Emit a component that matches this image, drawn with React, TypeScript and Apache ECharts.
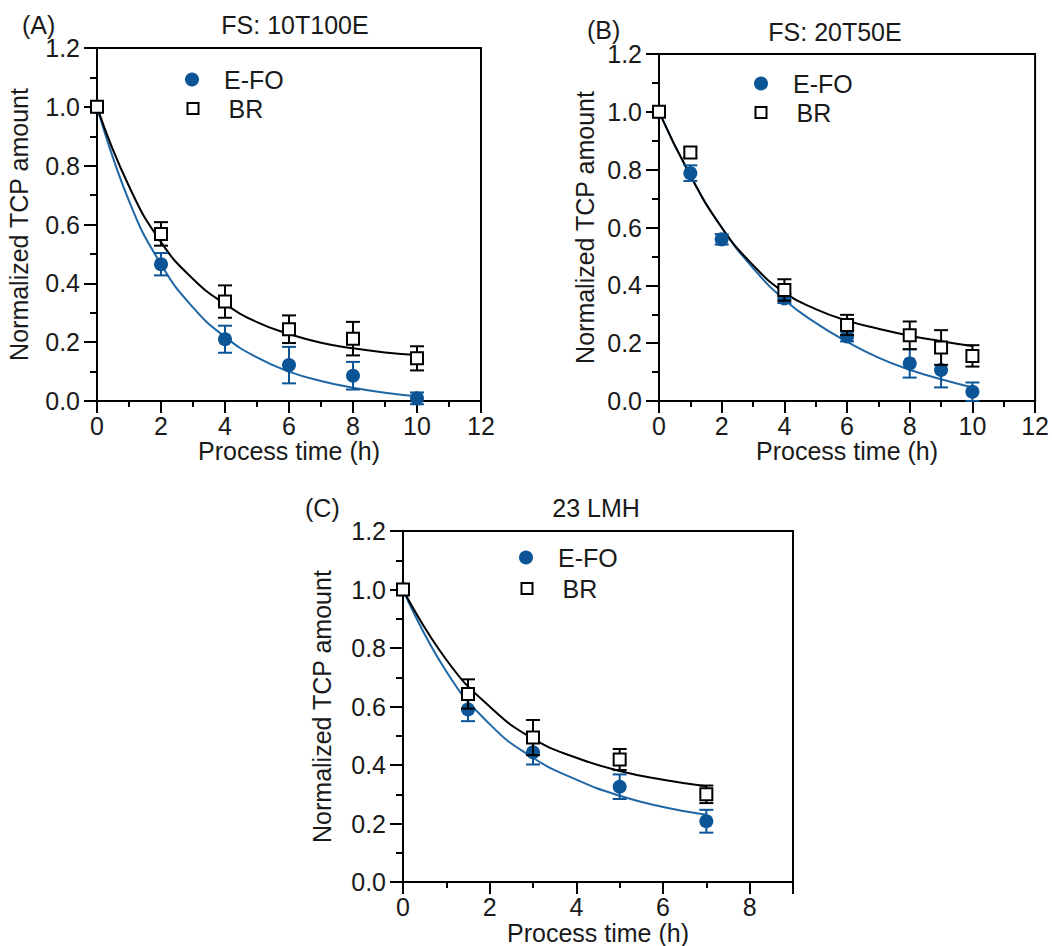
import React, { useEffect, useRef } from "react";
import * as echarts from "echarts";

// ---------- Data ----------
// Panel A: FS 10T100E
const xA = [0, 2, 4, 6, 8, 10];
const efoA = [1.0, 0.465, 0.21, 0.122, 0.086, 0.009];
const efoAErr = [0, 0.038, 0.046, 0.062, 0.047, 0.02];
const brA = [1.0, 0.568, 0.338, 0.244, 0.212, 0.145];
const brAErr = [0, 0.04, 0.055, 0.047, 0.057, 0.041];
const fitXA = [0, 1, 2, 3, 4, 5, 6, 7, 8, 9, 10];
const efoFitA = [1.0, 0.68, 0.465, 0.318, 0.218, 0.148, 0.1, 0.068, 0.045, 0.028, 0.016];
const brFitA = [1.0, 0.73, 0.54, 0.415, 0.33, 0.268, 0.228, 0.198, 0.179, 0.165, 0.156];

// Panel B: FS 20T50E
const xBefo = [0, 1, 2, 4, 6, 8, 9, 10];
const efoB = [1.0, 0.788, 0.559, 0.355, 0.223, 0.13, 0.107, 0.032];
const efoBErr = [0, 0.027, 0.018, 0.016, 0.017, 0.049, 0.06, 0.032];
const xBbr = [0, 1, 4, 6, 8, 9, 10];
const brB = [1.0, 0.859, 0.384, 0.263, 0.227, 0.185, 0.156];
const brBErr = [0, 0.017, 0.037, 0.035, 0.048, 0.06, 0.037];
const fitXB = [0, 1, 2, 3, 4, 5, 6, 7, 8, 9, 10];
const efoFitB = [1.0, 0.78, 0.6, 0.46, 0.35, 0.27, 0.205, 0.15, 0.108, 0.075, 0.047];
const brFitB = [1.0, 0.78, 0.6, 0.47, 0.375, 0.318, 0.278, 0.25, 0.226, 0.207, 0.19];

// Panel C: 23 LMH
const xC = [0, 1.5, 3, 5, 7];
const efoC = [1.0, 0.59, 0.444, 0.326, 0.208];
const efoCErr = [0, 0.04, 0.042, 0.042, 0.039];
const brC = [1.0, 0.643, 0.494, 0.419, 0.3];
const brCErr = [0, 0.05, 0.06, 0.036, 0.03];
const fitXC = [0, 1, 2, 3, 4, 5, 6, 7];
const efoFitC = [1.0, 0.72, 0.54, 0.425, 0.35, 0.295, 0.257, 0.23];
const brFitC = [1.0, 0.76, 0.6, 0.49, 0.425, 0.38, 0.35, 0.328];

const panelLetters = ["(A)", "(B)", "(C)"];
const panelTitles = ["FS: 10T100E", "FS: 20T50E", "23 LMH"];
const xAxisName = "Process time (h)";
const yAxisName = "Normalized TCP amount";
const legendNames = ["E-FO", "BR"];

// ---------- Styling ----------
const FONT = "'Liberation Sans', Arial, sans-serif";
const TXT = "#1a1a1a";
const BLUE = "#0b5597";
const BLUE_LINE = "#1f67a5";
const FS = 25;

type PanelLayout = {
  grid: { left: number; top: number; width: number; height: number };
  xMax: number;
  yGap: number;
  xGap: number;
  showMaxX: boolean;
  letter: [number, number];
  title: [number, number];
  legEfo: [number, number];
  legBr: [number, number];
};

const layouts: PanelLayout[] = [
  {
    grid: { left: 97, top: 48, width: 384, height: 353 },
    xMax: 12, yGap: 66, xGap: 36, showMaxX: true,
    letter: [22, 25], title: [295, 25], legEfo: [192, 79], legBr: [192, 108],
  },
  {
    grid: { left: 659, top: 54, width: 378, height: 347 },
    xMax: 12, yGap: 62, xGap: 37, showMaxX: true,
    letter: [587, 30], title: [835, 32], legEfo: [761, 83], legBr: [760, 112],
  },
  {
    grid: { left: 403, top: 531, width: 390, height: 356 },
    xMax: 9, yGap: 69, xGap: 32, showMaxX: false,
    letter: [305, 508], title: [596, 508], legEfo: [526, 557], legBr: [526, 588],
  },
];

function errData(xs: number[], ys: number[], es: number[]) {
  return xs
    .map((x, i) => [x, ys[i] - es[i], ys[i] + es[i]])
    .filter((_, i) => es[i] > 0);
}

function pairs(xs: number[], ys: number[]) {
  return xs.map((x, i) => [x, ys[i]]);
}

const makeErr = (color: string) => (_params: any, api: any) => {
  const x = api.value(0);
  const top = api.coord([x, api.value(2)]);
  const bot = api.coord([x, api.value(1)]);
  const hw = 7;
  const style = { stroke: color, lineWidth: 2, fill: "none" };
  return {
    type: "group",
    children: [
      { type: "line", shape: { x1: top[0], y1: top[1], x2: bot[0], y2: bot[1] }, style },
      { type: "line", shape: { x1: top[0] - hw, y1: top[1], x2: top[0] + hw, y2: top[1] }, style },
      { type: "line", shape: { x1: bot[0] - hw, y1: bot[1], x2: bot[0] + hw, y2: bot[1] }, style },
    ],
  };
};

export default function App() {
  const ref = useRef<HTMLDivElement>(null);

  useEffect(() => {
    document.body.style.margin = "0";
    if (!ref.current) return;
    const chart = echarts.init(ref.current, undefined, { renderer: "svg" });

    const panelData = [
      { xe: xA, ye: efoA, ee: efoAErr, xb: xA, yb: brA, eb: brAErr, fx: fitXA, fe: efoFitA, fb: brFitA },
      { xe: xBefo, ye: efoB, ee: efoBErr, xb: xBbr, yb: brB, eb: brBErr, fx: fitXB, fe: efoFitB, fb: brFitB },
      { xe: xC, ye: efoC, ee: efoCErr, xb: xC, yb: brC, eb: brCErr, fx: fitXC, fe: efoFitC, fb: brFitC },
    ];

    const textStyle = { fontFamily: FONT, fontSize: FS, color: TXT, fontWeight: "normal" as const };

    const grids = layouts.map((l) => ({
      ...l.grid,
      show: true,
      borderColor: "#000",
      borderWidth: 2,
      backgroundColor: "transparent",
      containLabel: false,
    }));

    const axisLine = { show: true, onZero: false, lineStyle: { color: "#000", width: 2 } };

    const xAxes = layouts.map((l, i) => ({
      type: "value",
      gridIndex: i,
      min: 0,
      max: l.xMax,
      interval: 2,
      name: xAxisName,
      nameLocation: "middle",
      nameGap: l.xGap,
      nameTextStyle: textStyle,
      axisLine,
      axisTick: { show: true, inside: false, length: 12, lineStyle: { color: "#000", width: 2 } },
      minorTick: { show: true, splitNumber: 2, length: 6, lineStyle: { color: "#000", width: 2 } },
      splitLine: { show: false },
      minorSplitLine: { show: false },
      axisLabel: {
        ...textStyle,
        margin: 12,
        showMaxLabel: l.showMaxX,
        formatter: (v: number) => String(v),
      },
    }));

    const yAxes = layouts.map((l, i) => ({
      type: "value",
      gridIndex: i,
      min: 0,
      max: 1.2,
      interval: 0.2,
      name: yAxisName,
      nameLocation: "middle",
      nameGap: l.yGap,
      nameTextStyle: textStyle,
      axisLine,
      axisTick: { show: true, inside: false, length: 13, lineStyle: { color: "#000", width: 2 } },
      minorTick: { show: true, splitNumber: 2, length: 7, lineStyle: { color: "#000", width: 2 } },
      splitLine: { show: false },
      minorSplitLine: { show: false },
      axisLabel: { ...textStyle, margin: 17, formatter: (v: number) => v.toFixed(1) },
    }));

    const series: any[] = [];
    panelData.forEach((d, i) => {
      series.push({
        name: "E-FO fit",
        type: "line",
        xAxisIndex: i,
        yAxisIndex: i,
        data: pairs(d.fx, d.fe),
        smooth: 0.5,
        showSymbol: false,
        lineStyle: { color: BLUE_LINE, width: 2 },
        itemStyle: { color: BLUE_LINE },
        z: 2,
        silent: true,
      });
      series.push({
        name: "BR fit",
        type: "line",
        xAxisIndex: i,
        yAxisIndex: i,
        data: pairs(d.fx, d.fb),
        smooth: 0.5,
        showSymbol: false,
        lineStyle: { color: "#000", width: 2 },
        itemStyle: { color: "#000" },
        z: 2,
        silent: true,
      });
      series.push({
        name: "E-FO err",
        type: "custom",
        xAxisIndex: i,
        yAxisIndex: i,
        data: errData(d.xe, d.ye, d.ee),
        encode: { x: 0, y: [1, 2] },
        renderItem: makeErr(BLUE),
        z: 3,
        silent: true,
      });
      series.push({
        name: legendNames[0],
        type: "scatter",
        xAxisIndex: i,
        yAxisIndex: i,
        data: pairs(d.xe, d.ye),
        symbol: "circle",
        symbolSize: 14,
        itemStyle: { color: BLUE, opacity: 1 },
        z: 4,
      });
      series.push({
        name: "BR err",
        type: "custom",
        xAxisIndex: i,
        yAxisIndex: i,
        data: errData(d.xb, d.yb, d.eb),
        encode: { x: 0, y: [1, 2] },
        renderItem: makeErr("#000"),
        z: 5,
        silent: true,
      });
      series.push({
        name: legendNames[1],
        type: "scatter",
        xAxisIndex: i,
        yAxisIndex: i,
        data: pairs(d.xb, d.yb),
        symbol: "rect",
        symbolSize: 12,
        itemStyle: { color: "#fff", borderColor: "#000", borderWidth: 2, opacity: 1 },
        z: 6,
      });
    });

    const legends: any[] = [];
    layouts.forEach((l) => {
      legends.push({
        data: [{ name: legendNames[0], icon: "circle" }],
        orient: "vertical",
        left: l.legEfo[0] - 7,
        top: l.legEfo[1] - 12,
        itemWidth: 14,
        itemHeight: 14,
        padding: 0,
        selectedMode: false,
        textStyle: { ...textStyle, padding: [0, 0, 0, 20] },
      });
      legends.push({
        data: [{ name: legendNames[1], icon: "rect" }],
        orient: "vertical",
        left: l.legBr[0] - 5.5,
        top: l.legBr[1] - 12,
        itemWidth: 11,
        itemHeight: 11,
        padding: 0,
        selectedMode: false,
        textStyle: { ...textStyle, padding: [0, 0, 0, 25] },
      });
    });

    const titles: any[] = [];
    layouts.forEach((l, i) => {
      titles.push({
        text: panelLetters[i],
        left: l.letter[0],
        top: l.letter[1],
        padding: 0,
        textAlign: "left",
        textVerticalAlign: "middle",
        textStyle,
      });
      titles.push({
        text: panelTitles[i],
        left: l.title[0],
        top: l.title[1],
        padding: 0,
        textAlign: "center",
        textVerticalAlign: "middle",
        textStyle,
      });
    });

    chart.setOption({
      animation: false,
      backgroundColor: "#fff",
      textStyle: { fontFamily: FONT },
      title: titles,
      legend: legends,
      grid: grids,
      xAxis: xAxes,
      yAxis: yAxes,
      series,
    });

    return () => chart.dispose();
  }, []);

  return <div ref={ref} style={{ width: 1052, height: 946 }} />;
}
